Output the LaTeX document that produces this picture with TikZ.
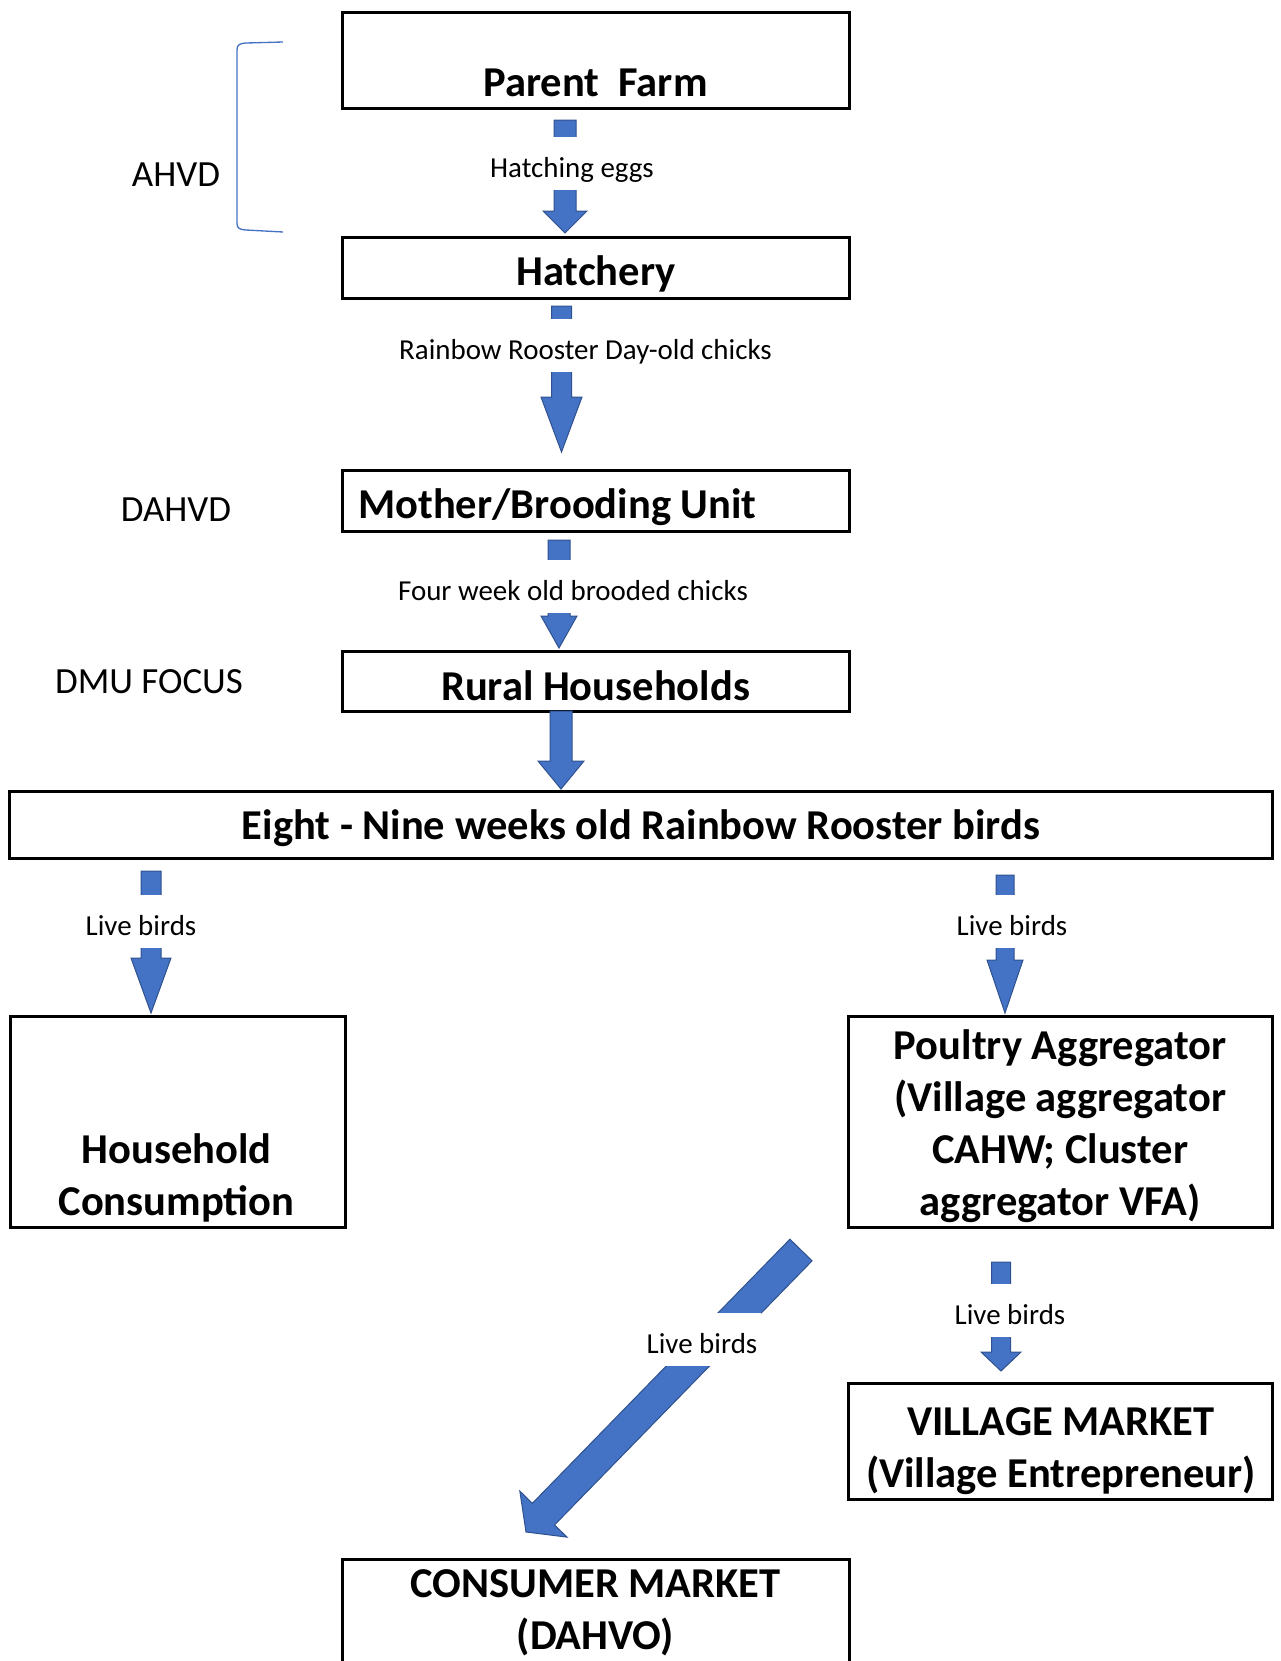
\documentclass[tikz,border=0pt]{standalone}
\usepackage{fontspec}
\setmainfont{Carlito}
\usetikzlibrary{calc}
\definecolor{arrfill}{HTML}{4472C4}
\definecolor{arredge}{HTML}{2F528F}
% block arrow: #1 start, #2 tip, #3 half shaft width, #4 half head width, #5 head length (all in px)
\newcommand\blockarrow[5]{%
  \coordinate (ba-hb) at ($(#2)!#5*0.75pt!(#1)$);
  \path[blockarr] ($(#1)!#3*0.75pt!90:(#2)$) -- ($(ba-hb)!#3*0.75pt!90:(#2)$)
    -- ($(ba-hb)!#4*0.75pt!90:(#2)$) -- (#2) -- ($(ba-hb)!#4*0.75pt!-90:(#2)$)
    -- ($(ba-hb)!#3*0.75pt!-90:(#2)$) -- ($(#1)!#3*0.75pt!-90:(#2)$) -- cycle;
}
\begin{document}
\begin{tikzpicture}[x=0.75pt,y=-0.75pt,
  box/.style={draw=black, line width=2.25pt, inner sep=0pt, outer sep=0pt},
  sz/.style 2 args={minimum width=#1*0.75pt, minimum height=#2*0.75pt},
  btext/.style={font=\fontsize{31.9}{38.8}\selectfont\bfseries, inner sep=0pt, anchor=base, align=center},
  flowlabel/.style={font=\fontsize{21.7}{26}\selectfont, fill=white, anchor=base, inner xsep=3pt, inner ysep=0pt, text height=30pt, text depth=10pt},
  sidelabel/.style={font=\fontsize{27.7}{33}\selectfont, inner sep=0pt, anchor=base},
  blockarr/.style={fill=arrfill, draw=arredge, line width=0.75pt, line join=miter},
  bracketline/.style={draw=arrfill, line width=1pt}]
\useasboundingbox (0,0) rectangle (1281,1661);
\clip (0,0) rectangle (1281,1661);

% boxes
\node[box, sz={507}{96}]    (pf)  at (595.5,60) {};
\node[box, sz={507}{61}]    (hat) at (595.5,267.5) {};
\node[box, sz={507}{61}]    (mot) at (595.5,500.5) {};
\node[box, sz={507}{60}]    (rur) at (595.5,681) {};
\node[box, sz={1263}{67}]   (eig) at (641,824.5) {};
\node[box, sz={335}{211}]   (hh)  at (177.5,1121.5) {};
\node[box, sz={424.5}{211}] (pa)  at (1060.25,1121.5) {};
\node[box, sz={424.5}{116}] (vm)  at (1060.25,1441) {};
\node[box, sz={507}{162}]   (cm)  at (595.5,1640) {};

% box texts (base anchor = baseline of the last line)
\node[btext] (pfT)  at (595.5,96) {Parent~~Farm};
\node[btext] (hatT) at (596,285) {Hatchery};
\node[btext, anchor=base west] (motT) at (358,518) {Mother/Brooding Unit};
\node[btext] (rurT) at (595.5,700) {Rural Households};
\node[btext] (eigT) at (641,839) {Eight - Nine weeks old Rainbow Rooster birds};
\node[btext] (hhT)  at (176.5,1215) {Household\\Consumption};
\node[btext] (paT)  at (1060.25,1215) {Poultry Aggregator\\(Village aggregator\\CAHW; Cluster\\aggregator VFA)};
\node[btext] (vmT)  at (1061,1487) {VILLAGE MARKET\\(Village Entrepreneur)};
\node[btext] (cmT)  at (595.5,1649) {CONSUMER MARKET\\(DAHVO)};

% side labels
\node[sidelabel] (ahvd)  at (176,186) {AHVD};
\node[sidelabel] (dahvd) at (176,521) {DAHVD};
\node[sidelabel] (dmu)   at (149,693) {DMU FOCUS};
\draw[bracketline] (283,42) -- (246,43) .. controls (239,43.5) and (237,45) .. (237,50)
  -- (237,223) .. controls (237,228) and (239,229.5) .. (246,230) -- (283,232);

% arrow end points
\coordinate (a1s) at ($(pf.south)+(-30.5,12)$);
\coordinate (a1e) at ($(hat.north)+(-30.5,-4)$);
\coordinate (a2s) at ($(hat.south)+(-34,8)$);
\coordinate (a2e) at ($(mot.north)+(-34,-18)$);
\coordinate (a3s) at ($(mot.south)+(-36.5,9)$);
\coordinate (a3e) at ($(rur.north)+(-36.5,-3)$);
\coordinate (a4s) at ($(rur.south)+(-34.5,0)$);
\coordinate (a4e) at ($(eig.north)+(-80,-2)$);
\coordinate (a5s) at ($(eig.south west)+(141.5,13)$);
\coordinate (a5e) at ($(hh.north)+(-26.5,-3)$);
\coordinate (a6s) at ($(eig.south east)+(-267.5,17)$);
\coordinate (a6e) at ($(pa.north)+(-55.25,-3)$);
\coordinate (a7s) at ($(pa.south)+(-59.25,35)$);
\coordinate (a7e) at ($(vm.north)+(-59.25,-12)$);
\coordinate (a8s) at ($(pa.south west)+(-47,23)$);
\coordinate (a8e) at ($(cm.north)+(-69.5,-27)$);

% arrows
\blockarrow{a1s}{a1e}{11}{22}{22}
\blockarrow{a2s}{a2e}{10}{20.5}{55}
\blockarrow{a3s}{a3e}{11}{18}{32}
\blockarrow{a4s}{a4e}{11}{23}{28}
\blockarrow{a5s}{a5e}{10}{20}{55}
\blockarrow{a6s}{a6e}{9}{18}{53}
\blockarrow{a7s}{a7e}{9.5}{20}{19}
\blockarrow{a8s}{a8e}{15.5}{33}{25}

% arrow labels
\node[flowlabel] (l1) at (572,177) {Hatching eggs};
\node[flowlabel] (l2) at (585.5,359) {Rainbow Rooster Day-old chicks};
\node[flowlabel] (l3) at (573,600) {Four week old brooded chicks};
\node[flowlabel] (l5) at (141,935) {Live birds};
\node[flowlabel] (l6) at (1012,935) {Live birds};
\node[flowlabel] (l7) at (1010,1324) {Live birds};
\node[flowlabel] (l8) at (702,1353) {Live birds};
\end{tikzpicture}
\end{document}
